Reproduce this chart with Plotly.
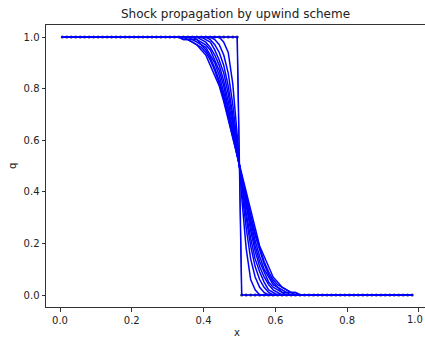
import plotly.graph_objects as go

# Grid: cell centres, dx = 1/80
DX = 1.0 / 80
X = [(i + 0.5) * DX for i in range(79)]

# Initial / exact step profile
STEP = [1.0] * 40 + [0.0] * 39

# Transition-window values (grid indices 26..53) of the diffused profiles
WIN_START = 26
Q1 = [1, 1, 1, 1, 1, 1, 1, 1, 1, 1, 0.98, 0.94, 0.82, 0.62,
      0.38, 0.18, 0.06, 0.02, 0, 0, 0, 0, 0, 0, 0, 0, 0, 0]
Q2 = [1, 1, 1, 1, 1, 1, 1, 1, 0.99, 0.97, 0.93, 0.86, 0.74, 0.59,
      0.41, 0.26, 0.14, 0.07, 0.03, 0.01, 0, 0, 0, 0, 0, 0, 0, 0]
Q3 = [1, 1, 1, 1, 1, 1, 1, 0.99, 0.97, 0.94, 0.89, 0.81, 0.70, 0.57,
      0.43, 0.30, 0.19, 0.11, 0.06, 0.03, 0.01, 0, 0, 0, 0, 0, 0, 0]
Q4 = [1, 1, 1, 1, 1, 1, 0.99, 0.98, 0.95, 0.91, 0.86, 0.78, 0.68, 0.56,
      0.44, 0.32, 0.22, 0.14, 0.09, 0.05, 0.02, 0.01, 0, 0, 0, 0, 0, 0]
Q5 = [1, 1, 1, 1, 1, 0.99, 0.98, 0.96, 0.93, 0.89, 0.83, 0.75, 0.66, 0.55,
      0.45, 0.34, 0.25, 0.17, 0.11, 0.07, 0.04, 0.02, 0.01, 0, 0, 0, 0, 0]
Q6 = [1, 1, 1, 1, 0.99, 0.98, 0.97, 0.95, 0.91, 0.87, 0.81, 0.73, 0.64, 0.55,
      0.45, 0.36, 0.27, 0.19, 0.13, 0.09, 0.05, 0.03, 0.02, 0.01, 0, 0, 0, 0]
Q7 = [1, 1, 1, 0.99, 0.99, 0.97, 0.96, 0.93, 0.90, 0.85, 0.79, 0.72, 0.63, 0.55,
      0.45, 0.37, 0.28, 0.21, 0.15, 0.10, 0.07, 0.04, 0.03, 0.01, 0.01, 0, 0, 0]
Q8 = [1, 1, 0.99, 0.99, 0.98, 0.97, 0.95, 0.92, 0.88, 0.83, 0.77, 0.70, 0.63, 0.54,
      0.46, 0.37, 0.30, 0.23, 0.17, 0.12, 0.08, 0.05, 0.03, 0.02, 0.01, 0.01, 0, 0]
Q9 = [1, 0.99, 0.99, 0.98, 0.97, 0.96, 0.94, 0.91, 0.87, 0.82, 0.76, 0.69, 0.62, 0.54,
      0.46, 0.38, 0.31, 0.24, 0.18, 0.13, 0.09, 0.06, 0.04, 0.03, 0.02, 0.01, 0.01, 0]
Q10 = [1, 0.99, 0.99, 0.98, 0.97, 0.95, 0.93, 0.89, 0.85, 0.81, 0.75, 0.68, 0.61, 0.54,
       0.46, 0.39, 0.32, 0.25, 0.19, 0.15, 0.11, 0.07, 0.05, 0.03, 0.02, 0.01, 0.01, 0]
CURVES = [Q1, Q2, Q3, Q4, Q5, Q6, Q7, Q8, Q9, Q10]

TICKS = [0.0, 0.2, 0.4, 0.6, 0.8, 1.0]
TICK_LABELS = ["0.0", "0.2", "0.4", "0.6", "0.8", "1.0"]


def full_profile(win):
    n = len(X)
    return [1.0] * WIN_START + list(win) + [0.0] * (n - WIN_START - len(win))


fig = go.Figure()
# exact step, dark with dots
fig.add_trace(go.Scatter(x=X, y=STEP, mode="lines+markers",
                         line=dict(color="#111133", width=1),
                         marker=dict(color="#222266", size=3),
                         showlegend=False))
# initial step in blue
fig.add_trace(go.Scatter(x=X, y=STEP, mode="lines",
                         line=dict(color="blue", width=1.5), showlegend=False))
for c in CURVES:
    fig.add_trace(go.Scatter(x=X, y=full_profile(c), mode="lines",
                             line=dict(color="blue", width=1.5),
                             showlegend=False))

font = dict(family="DejaVu Sans", size=10, color="#222222")
axis_common = dict(showgrid=False, zeroline=False, showline=True,
                   linecolor="#333333", linewidth=1, ticks="outside",
                   ticklen=3.5, tickcolor="#333333", tickwidth=1,
                   tickvals=TICKS, ticktext=TICK_LABELS,
                   tickfont=font, automargin=False)

fig.update_layout(
    width=425, height=338,
    margin=dict(l=46, r=0, t=25, b=31, autoexpand=False),
    paper_bgcolor="white", plot_bgcolor="white",
    title=dict(text="Shock propagation by upwind scheme",
               font=dict(family="DejaVu Sans", size=12, color="#222222"),
               x=0.5, xref="paper", xanchor="center",
               y=1 - 14 / 338, yref="container", yanchor="middle"),
    xaxis=dict(range=[-0.039, 1.017], mirror=True, **axis_common),
    yaxis=dict(range=[-0.0465, 1.0465], mirror=False, **axis_common),
    annotations=[
        dict(text="x", xref="paper", yref="paper", x=(237 - 46) / 379,
             y=-(332 - 307) / 282, showarrow=False, font=font,
             xanchor="center", yanchor="middle"),
        dict(text="q", xref="paper", yref="paper", x=-(46 - 12) / 379,
             y=(307 - 166) / 282, showarrow=False, font=font, textangle=-90,
             xanchor="center", yanchor="middle"),
        # last x tick label, kept inside the right edge
        dict(text=TICK_LABELS[-1], xref="paper", yref="paper", x=1.0,
             y=-(319 - 307) / 282, showarrow=False, font=font,
             xanchor="right", yanchor="middle"),
    ],
)

fig.write_html("out.html",
               config={"displayModeBar": False, "staticPlot": True},
               post_script="document.body.style.margin='0px';"
                           "document.body.style.padding='0px';"
                           "document.body.style.overflow='hidden';")
